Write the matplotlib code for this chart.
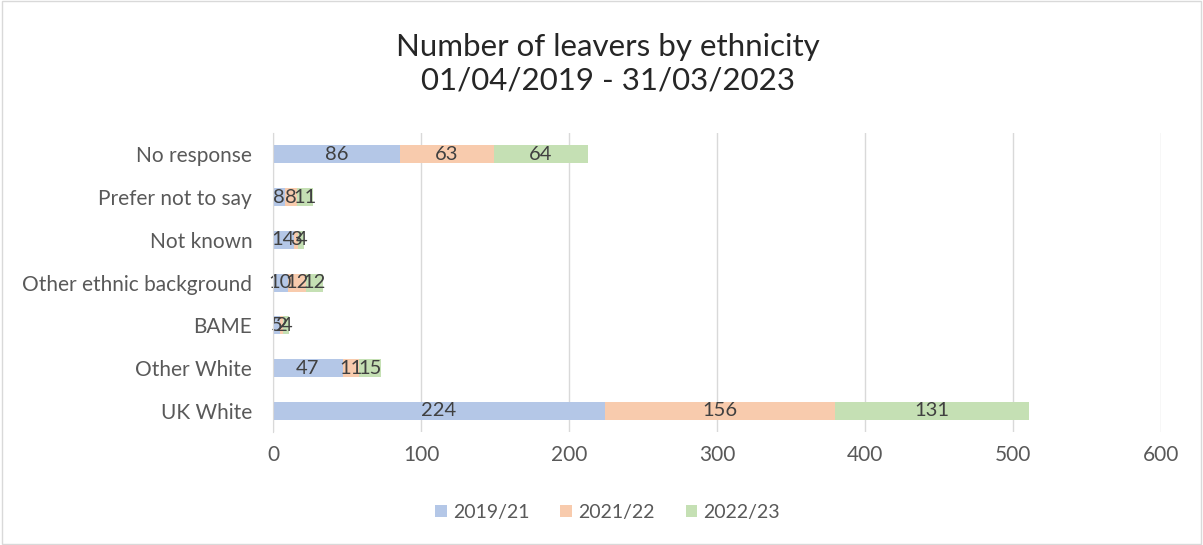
import matplotlib.pyplot as plt
import numpy as np

categories = ["UK White", "Other White", "BAME", "Other ethnic background",
              "Not known", "Prefer not to say", "No response"]
y_2019 = [224, 47, 5, 10, 14, 8, 86]
y_2021 = [156, 11, 2, 12, 3, 8, 63]
y_2022 = [131, 15, 4, 12, 4, 11, 64]
series = ["2019/21", "2021/22", "2022/23"]
colors = ["#B4C7E7", "#F8CBAD", "#C5E0B4"]

plt.rcParams['font.family'] = ['Lato', 'DejaVu Sans']

fig = plt.figure(figsize=(12.03, 5.45), dpi=100)
ax = fig.add_axes([0.227, 0.207, 0.738, 0.549])

y = np.arange(len(categories))
left = np.zeros(len(categories))
for vals, name, col in zip([y_2019, y_2021, y_2022], series, colors):
    vals = np.array(vals)
    ax.barh(y, vals, left=left, height=0.42, color=col, label=name, zorder=3)
    for yi, l, v in zip(y, left, vals):
        ax.text(l + v / 2, yi, str(v), ha="center", va="center",
                fontsize=14.5, color="#404040", zorder=4)
    left = left + vals

ax.set_xlim(0, 600)
ax.set_ylim(-0.5, len(categories) - 0.5)
ax.set_xticks(range(0, 601, 100))
ax.set_yticks(y)
ax.set_yticklabels(categories)
ax.tick_params(length=0, labelsize=15, labelcolor="#595959")
ax.tick_params(axis="x", pad=9)
ax.tick_params(axis="y", pad=15)
ax.grid(axis="x", color="#D9D9D9", linewidth=1, zorder=0)
for s in ["top", "right", "bottom"]:
    ax.spines[s].set_visible(False)
ax.spines["left"].set_color("#D9D9D9")
ax.spines["left"].set_zorder(5)

fig.text(0.505, 0.883, "Number of leavers by ethnicity\n01/04/2019 - 31/03/2023",
         ha="center", va="center", fontsize=22.5, color="#262626", linespacing=1.25)

fig.legend(loc="center", bbox_to_anchor=(0.505, 0.06), ncol=3, frameon=False,
           fontsize=14, handlelength=0.6, handleheight=0.6, columnspacing=1.6,
           handletextpad=0.3, labelcolor="#595959")

fig.patches.append(plt.Rectangle((0.002, 0.002), 0.996, 0.996, transform=fig.transFigure,
                                 fill=False, edgecolor="#D9D9D9", linewidth=1))

fig.savefig("out.png", dpi=100)
